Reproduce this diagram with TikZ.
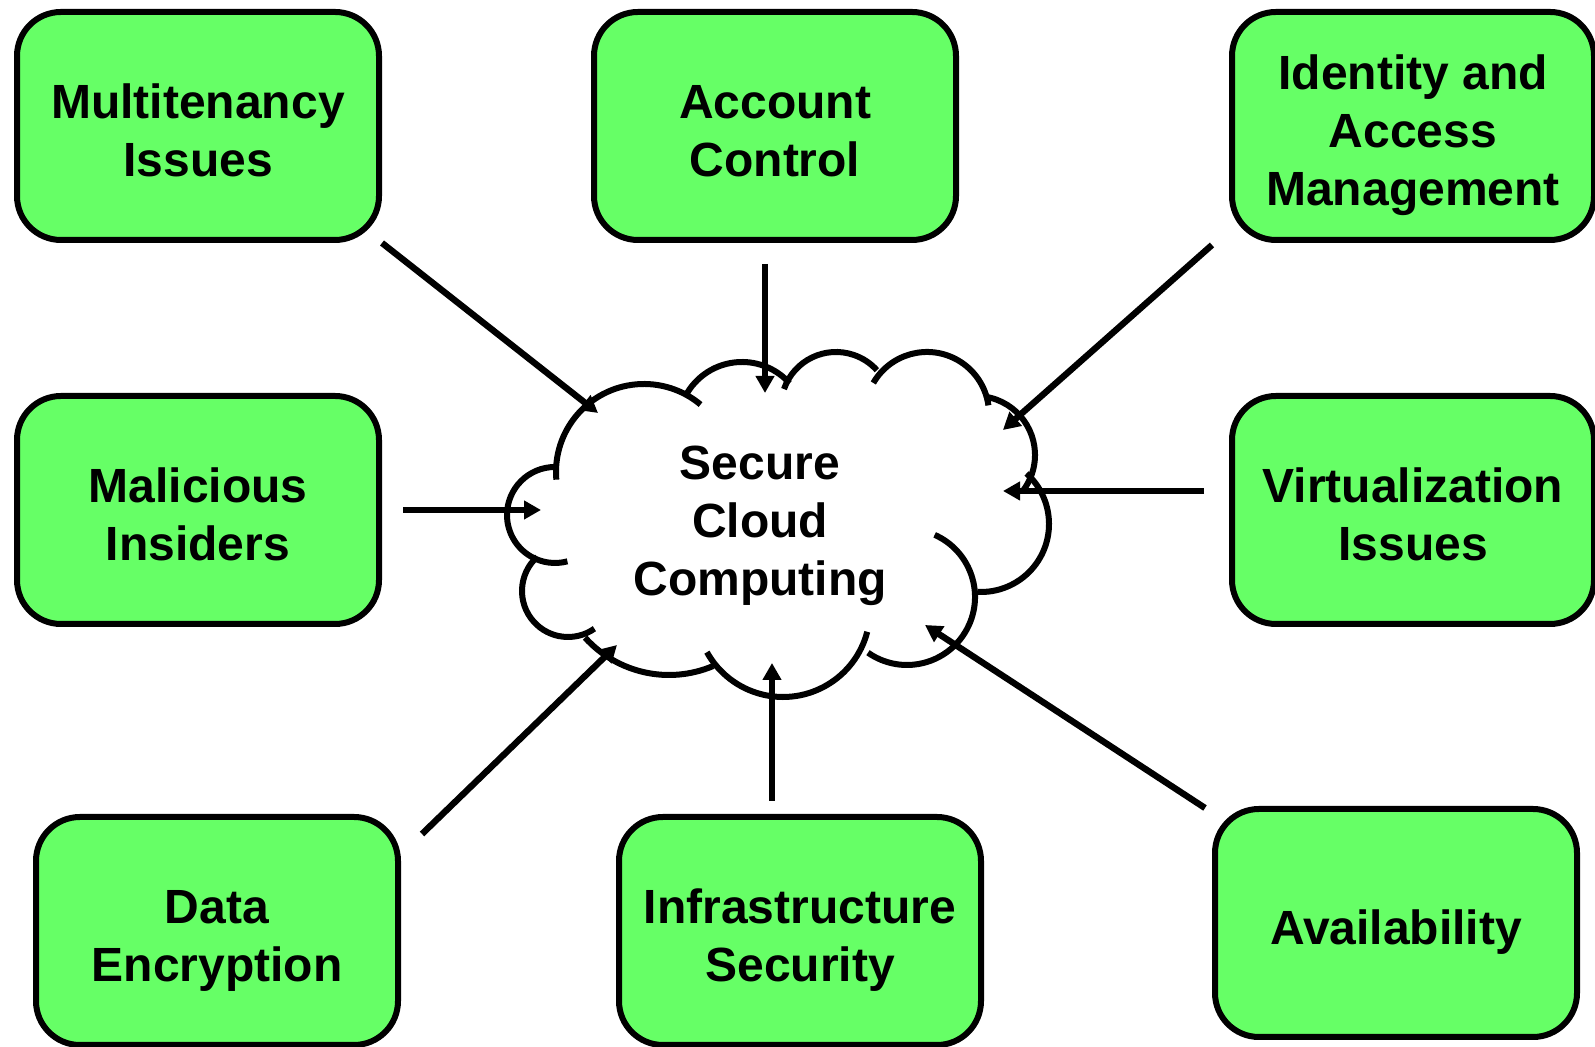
\documentclass[tikz,border=0pt]{standalone}
\usepackage{fontspec}
\setmainfont{Liberation Sans}
\usetikzlibrary{arrows.meta}
\definecolor{issuegreen}{HTML}{66FF66}
% centred lines, set a little low in the box
\newcommand\issuelines[1]{\raisebox{-5pt}[\height][\depth]{\begin{tabular}{@{}c@{}}#1\end{tabular}}}
\tikzset{
	issue/.style = {draw, line width = 3pt, fill = issuegreen, rounded corners = 22pt, minimum width = 181pt, minimum height = 114pt, font = \fontsize{24}{29}\selectfont\bfseries},
	link/.style = {->, line width = 3.2pt},
}

\begin{document}
\begin{tikzpicture}[x = 0.5pt, y = 0.5pt, >={Triangle[length=8.5pt, width=9pt]}]
	\useasboundingbox (0,0) rectangle (1595,1047);
	% the eight concerns
	\node [issue] (multi) at (198,921) {\issuelines{Multitenancy\\Issues}};
	\node [issue] (account) at (775,921) {\issuelines{Account\\Control}};
	\node [issue] (ident) at (1413,921) {\issuelines{Identity and\\Access\\Management}};
	\node [issue] (malic) at (198,537) {\issuelines{Malicious\\Insiders}};
	\node [issue] (virt) at (1413,537) {\issuelines{Virtualization\\Issues}};
	\node [issue] (data) at (217,116) {\issuelines{Data\\Encryption}};
	\node [issue] (infra) at (800,116) {\issuelines{Infrastructure\\Security}};
	\node [issue] (avail) at (1396,124) {\issuelines{Availability}};
	% cloud outline, one arc per bump
	\foreach \cx/\cy/\r/\angA/\angB in {644/575/88/185/50, 742/621/64/149/42, 836/640/55/161/42, 927/633/62/150/8, 976/592/59/81/-37, 981/523/68/48/-93, 907/450/68/66/-125, 783/437/87/-14.5/-151, 669/485/113/-67/-138, 568/456/46/132/305, 555/532/48/90/285}
		\draw [line width = 3pt] (\cx,\cy) ++(\angA:\r) arc [start angle = \angA, end angle = \angB, radius = \r];
	\node [align = center, font = \fontsize{24}{29}\selectfont\bfseries] (cloud) at (760,521) {Secure\\Cloud\\Computing};
	% where the arrows meet the cloud
	\coordinate (inA) at (598,634);
	\coordinate (inB) at (765,654);
	\coordinate (inC) at (1003,617);
	\coordinate (inD) at (541,537);
	\coordinate (inE) at (1003,556);
	\coordinate (inF) at (617,402);
	\coordinate (inG) at (772,384);
	\coordinate (inH) at (925,422);
	\draw [link] (multi.south east) -- (inA);
	\draw [link] ([xshift=-5pt, yshift=-10.5pt]account.south) -- (inB);
	\draw [link] ([xshift=-8.5pt, yshift=-1pt]ident.south west) -- (inC);
	\draw [link] ([xshift=10.5pt]malic.east) -- (inD);
	\draw [link] ([xshift=-12.5pt, yshift=9.5pt]virt.west) -- (inE);
	\draw [link] ([xshift=10.5pt, yshift=-10pt]data.north east) -- (inF);
	\draw [link] ([xshift=-14pt, yshift=6.5pt]infra.north) -- (inG);
	\draw [link] ([xshift=-3.5pt, yshift=-1pt]avail.north west) -- (inH);
\end{tikzpicture}
\end{document}
